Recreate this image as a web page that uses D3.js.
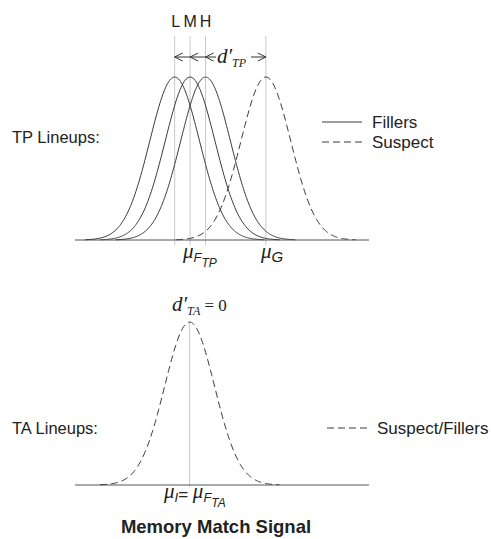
<!DOCTYPE html>
<html><head><meta charset="utf-8">
<script src="https://cdn.jsdelivr.net/npm/d3@7"></script>
<style>body{margin:0;background:#fff}svg{display:block}</style>
</head><body>
<script>
// Data (in standard-deviation units of memory match signal)
const fillerLabels = ["L", "M", "H"];
const fillerMeans = [0, 0.62, 1.24];
const suspectMean = 3.66;
const taMean = 0.6;
const xDomain = [-4, 7.8];
const curveHalfRange = 3.6;

const W = 491, H = 539;
const svg = d3.select("body").append("svg").attr("width", W).attr("height", H);
const x = d3.scaleLinear().domain(xDomain).range([75, 369]);
const yTop = d3.scaleLinear().domain([0, 1]).range([240, 77]);
const yBot = d3.scaleLinear().domain([0, 1]).range([485, 322]);
const ink = "#3a3a3a", grey = "#c8c8c8";
const sans = "Liberation Sans, Arial, sans-serif", serif = "Liberation Serif, Times New Roman, serif";
const dash = "7,4";

function gaussPts(m) {
  return d3.range(m - curveHalfRange, m + curveHalfRange + 0.001, 0.04).map(v => [v, Math.exp(-((v - m) ** 2) / 2)]);
}

// ---- Top panel ----
const gTop = svg.append("g");
fillerMeans.concat([suspectMean]).forEach(m => {
  gTop.append("line").attr("x1", x(m)).attr("x2", x(m)).attr("y1", 36).attr("y2", 245)
    .attr("stroke", grey).attr("stroke-width", 1);
});
gTop.append("line").attr("x1", x.range()[0]).attr("x2", x.range()[1]).attr("y1", yTop(0)).attr("y2", yTop(0))
  .attr("stroke", "#555").attr("stroke-width", 1);
const lineTop = d3.line().x(d => x(d[0])).y(d => yTop(d[1])).curve(d3.curveBasis);
fillerMeans.forEach(m => {
  gTop.append("path").attr("d", lineTop(gaussPts(m))).attr("fill", "none").attr("stroke", ink).attr("stroke-width", 1);
});
gTop.append("path").attr("d", lineTop(gaussPts(suspectMean))).attr("fill", "none").attr("stroke", ink)
  .attr("stroke-width", 1).attr("stroke-dasharray", dash);

fillerLabels.forEach((l, i) => {
  gTop.append("text").attr("x", x(fillerMeans[i]) + (i === 0 ? 1 : 0)).attr("y", 27).attr("text-anchor", "middle")
    .attr("font-family", sans).attr("font-size", 16).attr("fill", "#222").text(l);
});
const ay = 57;
gTop.append("line").attr("x1", x(fillerMeans[0])).attr("x2", 216).attr("y1", ay).attr("y2", ay).attr("stroke", "#333");
gTop.append("line").attr("x1", 251).attr("x2", x(suspectMean)).attr("y1", ay).attr("y2", ay).attr("stroke", "#333");
fillerMeans.forEach(m => {
  const px = x(m);
  gTop.append("path").attr("d", `M${px + 8},${ay - 4}L${px},${ay}L${px + 8},${ay + 4}`).attr("fill", "none").attr("stroke", "#333");
});
{
  const px = x(suspectMean);
  gTop.append("path").attr("d", `M${px - 8},${ay - 4}L${px},${ay}L${px - 8},${ay + 4}`).attr("fill", "none").attr("stroke", "#333");
}
const dTP = gTop.append("text").attr("x", 217).attr("y", 63).attr("font-family", serif).attr("font-style", "italic").attr("fill", "#222");
dTP.append("tspan").attr("font-size", 21).text("d′");
dTP.append("tspan").attr("font-size", 12).attr("dy", 4).text("TP");

const muF = gTop.append("text").attr("x", 183).attr("y", 258).attr("fill", "#222");
muF.append("tspan").attr("font-family", serif).attr("font-style", "italic").attr("font-size", 21).text("μ");
muF.append("tspan").attr("font-family", sans).attr("font-style", "italic").attr("font-size", 13).attr("dy", 4).text("F");
muF.append("tspan").attr("font-family", sans).attr("font-style", "italic").attr("font-size", 12).attr("dy", 5).text("TP");
const muG = gTop.append("text").attr("x", 261).attr("y", 258).attr("fill", "#222");
muG.append("tspan").attr("font-family", serif).attr("font-style", "italic").attr("font-size", 21).text("μ");
muG.append("tspan").attr("font-family", sans).attr("font-style", "italic").attr("font-size", 15).attr("dy", 4).text("G");

gTop.append("text").attr("x", 12).attr("y", 143).attr("font-family", sans).attr("font-size", 16.5).attr("fill", "#222").text("TP Lineups:");
gTop.append("line").attr("x1", 322).attr("x2", 362).attr("y1", 122).attr("y2", 122).attr("stroke", ink);
gTop.append("line").attr("x1", 322).attr("x2", 362).attr("y1", 142).attr("y2", 142).attr("stroke", ink).attr("stroke-dasharray", dash);
gTop.append("text").attr("x", 372).attr("y", 128).attr("font-family", sans).attr("font-size", 17).attr("fill", "#222").text("Fillers");
gTop.append("text").attr("x", 372).attr("y", 148).attr("font-family", sans).attr("font-size", 17).attr("fill", "#222").text("Suspect");

// ---- Bottom panel ----
const gBot = svg.append("g");
gBot.append("line").attr("x1", x(taMean)).attr("x2", x(taMean)).attr("y1", yBot(1)).attr("y2", 487)
  .attr("stroke", grey).attr("stroke-width", 1);
gBot.append("line").attr("x1", x.range()[0]).attr("x2", x.range()[1]).attr("y1", yBot(0)).attr("y2", yBot(0))
  .attr("stroke", "#555").attr("stroke-width", 1);
const lineBot = d3.line().x(d => x(d[0])).y(d => yBot(d[1])).curve(d3.curveBasis);
gBot.append("path").attr("d", lineBot(gaussPts(taMean))).attr("fill", "none").attr("stroke", ink)
  .attr("stroke-width", 1).attr("stroke-dasharray", dash);

const dTA = gBot.append("text").attr("x", 172).attr("y", 311).attr("font-family", serif).attr("font-style", "italic").attr("fill", "#222");
dTA.append("tspan").attr("font-size", 21).text("d′");
dTA.append("tspan").attr("font-size", 12).attr("dy", 4).text("TA");
dTA.append("tspan").attr("font-style", "normal").attr("font-size", 17).attr("dy", -4).text(" = 0");

gBot.append("text").attr("x", 12).attr("y", 434).attr("font-family", sans).attr("font-size", 16.5).attr("fill", "#222").text("TA Lineups:");
gBot.append("line").attr("x1", 327).attr("x2", 367).attr("y1", 428).attr("y2", 428).attr("stroke", ink).attr("stroke-dasharray", dash);
gBot.append("text").attr("x", 377).attr("y", 434).attr("font-family", sans).attr("font-size", 17).attr("fill", "#222").text("Suspect/Fillers");

const muI = gBot.append("text").attr("x", 164).attr("y", 498).attr("fill", "#222");
muI.append("tspan").attr("font-family", serif).attr("font-style", "italic").attr("font-size", 21).text("μ");
muI.append("tspan").attr("font-family", sans).attr("font-style", "italic").attr("font-size", 13).attr("dy", 4).text("I");
muI.append("tspan").attr("font-family", sans).attr("font-size", 17).attr("dy", -2).text("= ");
muI.append("tspan").attr("font-family", serif).attr("font-style", "italic").attr("font-size", 21).attr("dy", -2).text("μ");
muI.append("tspan").attr("font-family", sans).attr("font-style", "italic").attr("font-size", 13).attr("dy", 4).text("F");
muI.append("tspan").attr("font-family", sans).attr("font-style", "italic").attr("font-size", 12).attr("dy", 5).text("TA");

svg.append("text").attr("x", 216).attr("y", 533).attr("text-anchor", "middle").attr("font-family", sans)
  .attr("font-weight", "bold").attr("font-size", 18.5).attr("fill", "#222").text("Memory Match Signal");
</script>
</body></html>
